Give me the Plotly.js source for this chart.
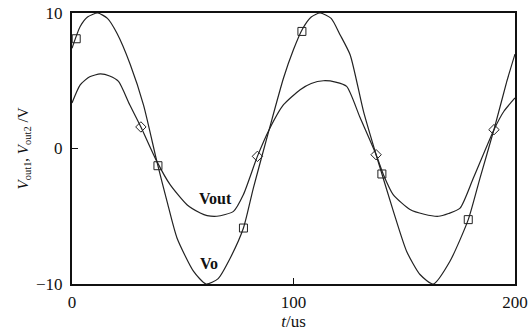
<!DOCTYPE html>
<html><head><meta charset="utf-8">
<script src="https://cdn.plot.ly/plotly-3.0.1.min.js"></script>
<style>html,body{margin:0;padding:0;background:#fff}#chart{width:531px;height:334px}</style>
</head><body><div id="chart"></div>
<script>
// Vo curve
const voT = [0, 3.7, 7, 11.6, 16, 20.3, 26.3, 32.3, 38.3, 42.9, 47.4, 54.9, 60.5, 66, 71.4, 77.4, 81.9, 89, 95.5, 100, 104, 108, 112, 117, 121, 125.6, 131.6, 137.3, 145.1, 151.1, 157.1, 163.1, 170.7, 178.9, 184.2, 190.5, 196.3, 200];
const voV = [7.4, 9.0, 9.7, 10, 9.6, 8.5, 6.2, 3.2, -0.95, -3.9, -6.6, -9.07, -10, -9.6, -8.1, -5.87, -2.9, 1.39, 5.2, 7.3, 8.8, 9.7, 10, 9.6, 8.4, 6.9, 2.74, -0.46, -4.64, -7.6, -9.3, -10, -8.3, -5.25, -2.18, 1.39, 4.95, 6.97];
// Vout curve
const voutT = [0, 3.7, 8, 12.8, 17, 21, 26, 31.1, 38.3, 44.3, 51.9, 57.9, 61, 65.4, 72.9, 77.4, 83.7, 89, 95.5, 103, 108, 113.5, 119, 124, 130, 137.3, 140.6, 145, 152.6, 159, 165.4, 170, 175.2, 181.2, 190.5, 195, 200];
const voutV = [3.36, 4.7, 5.3, 5.5, 5.35, 4.95, 3.25, 1.59, -0.95, -2.67, -4.15, -4.76, -4.95, -5.0, -4.64, -3.4, -0.58, 1.39, 3.23, 4.34, 4.8, 5.0, 4.9, 4.58, 2.3, -0.46, -1.93, -3.4, -4.5, -4.85, -5.0, -4.8, -4.4, -2.18, 1.39, 2.75, 3.73];
// markers
const sqT = [1.9, 38.8, 77.4, 103.8, 139.9, 178.9];
const sqV = [8.1, -1.27, -5.87, 8.64, -1.88, -5.25];
const diT = [31.1, 83.7, 137.3, 190.5];
const diV = [1.59, -0.58, -0.46, 1.39];
// labels
const xTicks = [0, 100, 200];
const yTicks = [-10, 0, 10];
const yTickText = ['\u221210', '0', '10'];
const curveLabels = ['Vout', 'Vo'];
const curveLabelPos = [[65, -3.7], [62, -8.5]];

const traces = [
  {x: voT, y: voV, mode: 'lines', line: {color: '#222', width: 1.2, shape: 'spline', smoothing: 0.6}, hoverinfo: 'skip'},
  {x: voutT, y: voutV, mode: 'lines', line: {color: '#222', width: 1.2, shape: 'spline', smoothing: 0.6}, hoverinfo: 'skip'},
  {x: sqT, y: sqV, mode: 'markers', marker: {symbol: 'square-open', size: 8, color: '#222', line: {width: 1}}},
  {x: diT, y: diV, mode: 'markers', marker: {symbol: 'diamond-open', size: 8, color: '#222', line: {width: 1}}}
];

const font = {family: '"Liberation Serif", "Times New Roman", serif', color: '#111', size: 17};
const layout = {
  width: 531, height: 334,
  margin: {l: 72, r: 16, t: 13, b: 50},
  showlegend: false,
  paper_bgcolor: '#fff', plot_bgcolor: '#fff',
  font: font,
  xaxis: {
    range: [0, 200], tickvals: xTicks, ticktext: xTicks.map(String),
    ticks: 'inside', ticklen: 6, tickcolor: '#111', tickwidth: 1,
    showline: true, linecolor: '#111', linewidth: 2, mirror: true,
    showgrid: false, zeroline: false, ticklabelstandoff: 2,
    title: {text: '<i>t</i>/us', font: {size: 17}, standoff: 0}
  },
  yaxis: {
    range: [-10, 10], tickvals: yTicks, ticktext: yTickText,
    ticks: 'inside', ticklen: 6, tickcolor: '#111', tickwidth: 1,
    showline: true, linecolor: '#111', linewidth: 2, mirror: true,
    showgrid: false, zeroline: false, ticklabelstandoff: 4,
    title: {text: '<i>V</i><sub>out1</sub>, <i>V</i><sub>out2</sub> /V', font: {size: 15}, standoff: 4}
  },
  annotations: curveLabels.map((t, i) => ({
    x: curveLabelPos[i][0], y: curveLabelPos[i][1], text: '<b>' + t + '</b>',
    showarrow: false, font: {size: 16, color: '#111'}
  }))
};
Plotly.newPlot('chart', traces, layout, {displayModeBar: false, staticPlot: true});
</script></body></html>
